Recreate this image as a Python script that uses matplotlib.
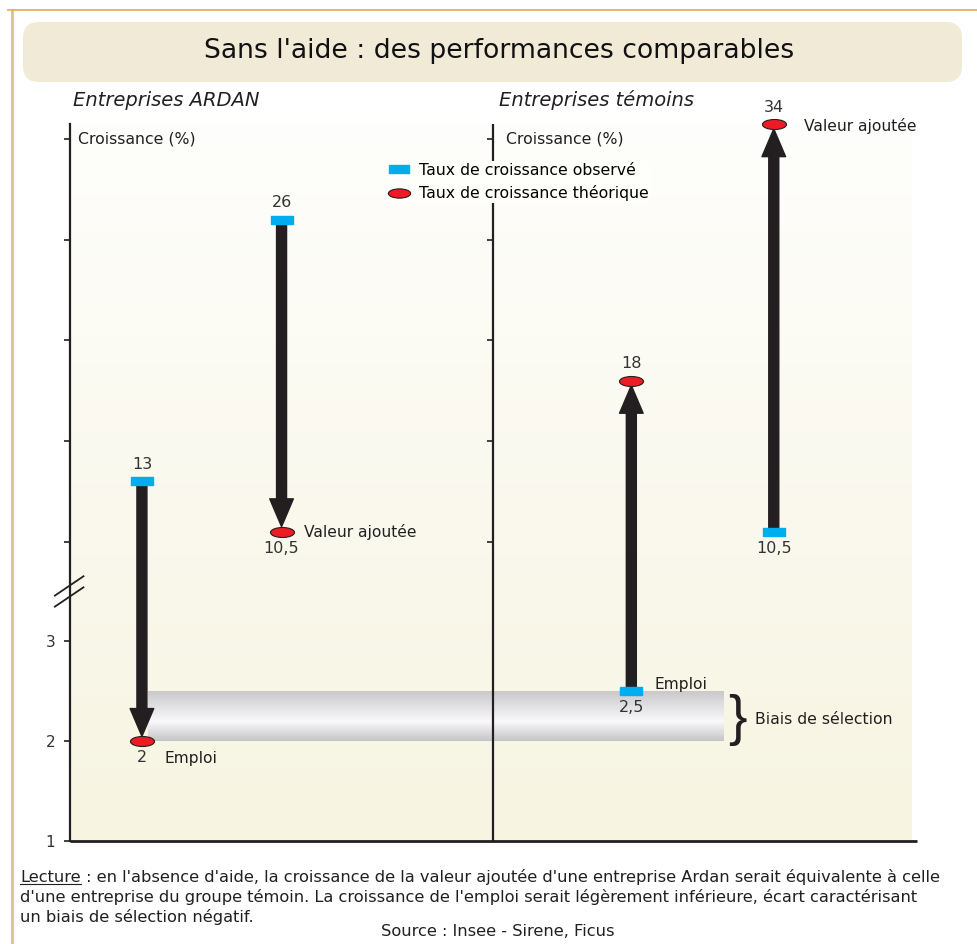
import matplotlib.pyplot as plt
import numpy as np
from matplotlib.patches import FancyArrowPatch, FancyBboxPatch
from matplotlib.path import Path
from matplotlib.lines import Line2D
from matplotlib.colors import LinearSegmentedColormap

# data
groups = ["Entreprises ARDAN", "Entreprises témoins"]
indicators = ["Emploi", "Valeur ajoutée", "Emploi", "Valeur ajoutée"]
observed = [13, 26, 2.5, 10.5]       # taux de croissance observé
theoretical = [2, 10.5, 18, 34]      # taux de croissance théorique
low_ticks = [1, 2, 3]
high_ticks = [10, 15, 20, 25, 30]

# layout
x_pos = [0.51, 1.50, 3.98, 4.99]
label_anchor = ["theo", "theo", "obs", "theo"]
label_offset = [(16.5, -12.5), (16, 0), (17, 5), (21.5, -1.5)]
YTOP = 30.75
DARK = "#231F20"
BLUE = "#00AEEF"
RED = "#ED1C24"

plt.rcParams["font.family"] = ["DejaVu Sans"]


# broken axis: 1..3.5 linear, then 7.5.. compressed (about 5 units per lower unit)
def fwd(v):
    v = np.asarray(v, dtype=float)
    return np.where(v <= 3.5, v - 1, np.where(v >= 7.5, 3 + (v - 10) / 4.96, 2.5))


def inv(d):
    d = np.asarray(d, dtype=float)
    return np.where(d <= 2.5, d + 1, (d - 3) * 4.96 + 10)


W, H = 977, 944
fig = plt.figure(figsize=(W / 100, H / 100), dpi=100)
fig.patch.set_facecolor("white")

# frame lines
fig.add_artist(Line2D([12 / W, 12 / W], [0, 1 - 10 / H], color="#D9C28E", lw=2))
fig.add_artist(Line2D([8 / W, 1], [1 - 10 / H, 1 - 10 / H], color="#E4B35A", lw=1.3))

# title box
fig.add_artist(FancyBboxPatch((0.23, (H - 82) / 100), 9.39, 0.60,
                              boxstyle="round,pad=0,rounding_size=0.16",
                              transform=fig.dpi_scale_trans, fc="#F1EAD7", ec="none"))
fig.text(499 / W, 1 - 51 / H, "Sans l'aide : des performances comparables",
         ha="center", va="center", fontsize=19.2, color="#111111")

for gx, g in zip([73, 499], groups):
    fig.text(gx / W, 1 - 100 / H, g, style="italic", fontsize=14, va="center",
             ha="left", color=DARK)

ax = fig.add_axes([70 / W, 103 / H, 842 / W, 717 / H])
ax.set_yscale("function", functions=(fwd, inv))

# background gradient
cmap_bg = LinearSegmentedColormap.from_list("bg", ["#F7F4E1", "#FEFEFC"])
ax.imshow(np.linspace(0, 1, 256).reshape(-1, 1), extent=[0, 1, 0, 1],
          transform=ax.transAxes, cmap=cmap_bg, aspect="auto", origin="lower", zorder=0)

# selection bias band (gap between the Emploi values)
band_lo, band_hi = theoretical[0], observed[2]
band_mid = (band_lo + band_hi) / 2
band_x = (0.55, 4.64)
ys = np.linspace(band_lo, band_hi, 61)
tt = np.linspace(0, 1, 60)
light = np.interp(tt, [0, 0.4, 1], [0.77, 0.975, 0.79])
for y0, y1, l in zip(ys[:-1], ys[1:], light):
    ax.fill_between(band_x, y0, y1, color=(l, l, l + 0.008), lw=0, zorder=1)

ax.annotate("}", (4.735, band_mid), xytext=(0, -3), textcoords="offset points",
            fontsize=40, ha="center", va="center", color=DARK, zorder=3,
            family="Liberation Sans")
ax.annotate("Biais de sélection", (4.86, band_mid), xytext=(0, -2),
            textcoords="offset points", fontsize=11.3, ha="left", va="center", color=DARK)

# middle axis
ax.axvline(3, color=DARK, lw=1.6, zorder=2)
ax.plot([3] * len(high_ticks), high_ticks, ls="", marker=0, ms=4.5, mew=1.2,
        color=DARK, zorder=2)

theo_disp = [min(v, YTOP) for v in theoretical]

# arrows
for x, a, b in zip(x_pos, observed, theo_disp):
    arr = FancyArrowPatch((x, a), (x, b),
                          arrowstyle="simple,head_length=2.0,head_width=1.7,tail_width=0.72",
                          mutation_scale=10, color=DARK, shrinkA=0, shrinkB=3.5,
                          zorder=3, clip_on=False)
    ax.add_patch(arr)

rect = Path([(-1.25, -0.5), (1.25, -0.5), (1.25, 0.5), (-1.25, 0.5), (-1.25, -0.5)],
            closed=True)
circ = Path.unit_circle()
ell = Path(circ.vertices * np.array([1.2, 0.5]), circ.codes)

ax.plot(x_pos, observed, ls="", marker=rect, ms=16, color=BLUE, zorder=4, clip_on=False)
ax.plot(x_pos, theo_disp, ls="", marker=ell, ms=17.3, mfc=RED, mec=DARK, mew=0.8,
        zorder=4, clip_on=False)

# value labels, placed outside the arrow span
for x, a, b, vb in zip(x_pos, observed, theo_disp, theoretical):
    d = 1 if b > a else -1
    for v, shown, off in [(a, a, -d * 12), (b, vb, d * 12)]:
        ax.annotate(f"{shown:g}".replace(".", ","), (x, v), xytext=(0, off),
                    textcoords="offset points", ha="center", va="center",
                    fontsize=11.5, color="#333333", annotation_clip=False)

for i, name in enumerate(indicators):
    yv = theo_disp[i] if label_anchor[i] == "theo" else observed[i]
    ax.annotate(name, (x_pos[i], yv), xytext=label_offset[i], textcoords="offset points",
                ha="left", va="center", fontsize=11.2, color=DARK, annotation_clip=False)

for xa, dx in [(0, 6), (3, 9.5)]:
    ax.annotate("Croissance (%)", (xa, 30), xytext=(dx, 0), textcoords="offset points",
                ha="left", va="center", fontsize=11.3, color=DARK)

# legend
h_obs = Line2D([], [], ls="", marker=rect, ms=14.5, color=BLUE)
h_theo = Line2D([], [], ls="", marker=ell, ms=16, mfc=RED, mec=DARK, mew=0.8)
fig.legend([h_obs, h_theo], ["Taux de croissance observé", "Taux de croissance théorique"],
           loc="upper left", bbox_to_anchor=(386 / W, 1 - 161 / H), frameon=True,
           facecolor="#FEFEFB", edgecolor="none", framealpha=1, fancybox=False,
           fontsize=11.3, handlelength=1.4, handletextpad=0.6, labelspacing=0.5,
           borderpad=0.1, borderaxespad=0)

# axes styling
ax.set_xlim(0, 5.97)
ax.set_ylim(1, YTOP)
ax.set_yticks(low_ticks + high_ticks)
ax.set_yticklabels([str(t) for t in low_ticks] + [""] * len(high_ticks))
ax.yaxis.set_minor_locator(plt.NullLocator())
ax.set_xticks([])
ax.tick_params(axis="y", direction="out", length=4.5, width=1.2, colors=DARK,
               labelsize=11, labelcolor="#333333", pad=6)
for s in ["top", "right"]:
    ax.spines[s].set_visible(False)
ax.spines["left"].set_color(DARK)
ax.spines["left"].set_linewidth(1.6)
ax.spines["bottom"].set_visible(False)
ax.plot([0, 1.006], [0, 0], transform=ax.transAxes, color=DARK, lw=2, clip_on=False,
        zorder=5, solid_capstyle="butt")

# axis break marks
yb = fwd(3.5) / fwd(YTOP)
for dy in (-0.0077, 0.0077):
    ax.plot([-0.018, 0.016], [yb + dy - 0.0135, yb + dy + 0.0135], transform=ax.transAxes,
            color=DARK, lw=1.3, clip_on=False, zorder=5)

# footnote
FS = 11.7
y1 = 1 - 877 / H
t = fig.text(20 / W, y1, "Lecture", fontsize=FS, va="center", color=DARK)
fig.canvas.draw()
bb = t.get_window_extent()
fig.text(bb.x1 / W, y1, " : en l'absence d'aide, la croissance de la valeur ajoutée d'une "
         "entreprise Ardan serait équivalente à celle", fontsize=FS, va="center", color=DARK)
fig.add_artist(Line2D([bb.x0 / W, bb.x1 / W], [(bb.y0 + 1) / H] * 2, color=DARK, lw=0.8))
fig.text(20 / W, 1 - 897 / H, "d'une entreprise du groupe témoin. La croissance de l'emploi "
         "serait légèrement inférieure, écart caractérisant", fontsize=FS, va="center",
         color=DARK)
fig.text(20 / W, 1 - 917 / H, "un biais de sélection négatif.", fontsize=FS, va="center",
         color=DARK)
fig.text(498 / W, 1 - 932 / H, "Source : Insee - Sirene, Ficus", fontsize=FS, ha="center",
         va="center", color=DARK)

fig.savefig("out.png", dpi=100)
